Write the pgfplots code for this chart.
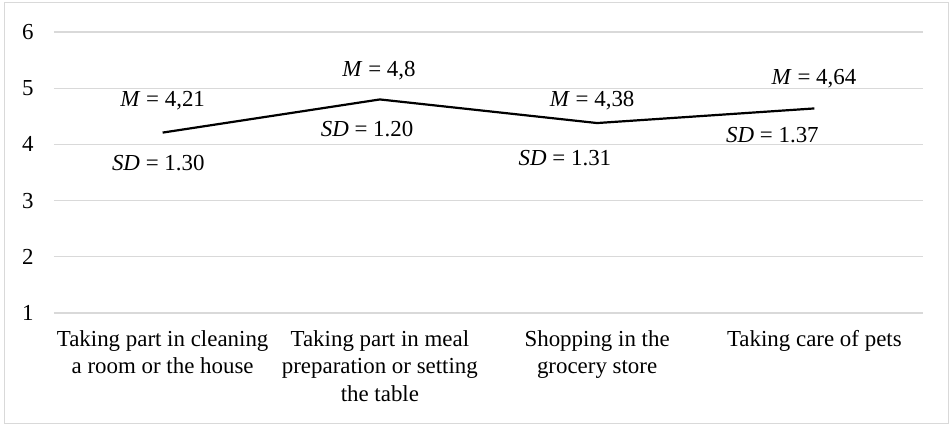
\documentclass[border=0pt]{standalone}
\usepackage{pgfplots}
\pgfplotsset{compat=1.18}
\usepackage{fontspec}
\setmainfont{Liberation Serif}
\definecolor{gridgray}{HTML}{D9D9D9}

\begin{document}
\begin{tikzpicture}
\begin{axis}[
  name=ax,
  scale only axis,
  width=869bp, height=281bp,
  xmin=-0.5, xmax=3.5, ymin=1, ymax=6,
  axis line style={draw=none},
  xtick={0,1,2,3},
  xticklabels={{Taking part in cleaning\\a room or the house},
               {Taking part in meal\\preparation or setting\\the table},
               {Shopping in the\\grocery store},
               {Taking care of pets}},
  ytick={1,2,3,4,5,6},
  major tick length=0pt,
  ymajorgrids,
  grid style={gridgray, line width=1.2bp},
  tick label style={font=\fontsize{23}{27.5}\selectfont},
  /pgf/number format/assume math mode=true,
  xticklabel style={align=center, yshift=-14bp},
  yticklabel style={xshift=-17bp},
  clip=false,
]
\addplot[black, line width=2.2bp, mark=none] coordinates {(0,4.21) (1,4.8) (2,4.38) (3,4.64)};

\begin{scope}[every node/.style={font=\fontsize{23}{27.5}\selectfont, inner sep=0pt}]
\node at (axis cs:0,4.78) {\textit{M} = 4,21};
\node at (axis cs:-0.02,3.66) {\textit{SD} = 1.30};
\node at (axis cs:0.996,5.32) {\textit{M} = 4,8};
\node at (axis cs:0.941,4.27) {\textit{SD} = 1.20};
\node at (axis cs:1.977,4.78) {\textit{M} = 4,38};
\node at (axis cs:1.852,3.75) {\textit{SD} = 1.31};
\node at (axis cs:2.998,5.17) {\textit{M} = 4,64};
\node at (axis cs:2.807,4.16) {\textit{SD} = 1.37};
\end{scope}
\end{axis}
\path ([xshift=-54bp,yshift=32bp]ax.north west) rectangle ([xshift=26bp,yshift=-112bp]ax.south east);
\draw[gridgray, line width=1bp] ([xshift=-49bp,yshift=29bp]ax.north west) rectangle ([xshift=25bp,yshift=-110bp]ax.south east);
\end{tikzpicture}
\end{document}
